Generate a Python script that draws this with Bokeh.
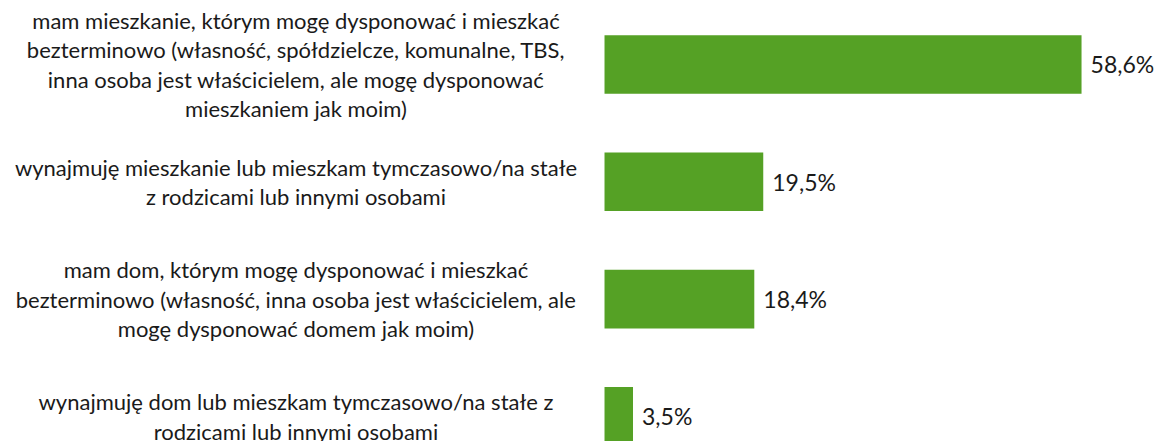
from bokeh.plotting import figure
from bokeh.models import Range1d, ColumnDataSource
from bokeh.core.properties import value
from bokeh.embed import file_html
from bokeh.resources import INLINE

categories = [
    "mam mieszkanie, którym mogę dysponować i mieszkać\nbezterminowo (własność, spółdzielcze, komunalne, TBS,\ninna osoba jest właścicielem, ale mogę dysponować\nmieszkaniem jak moim)",
    "wynajmuję mieszkanie lub mieszkam tymczasowo/na stałe\nz rodzicami lub innymi osobami",
    "mam dom, którym mogę dysponować i mieszkać\nbezterminowo (własność, inna osoba jest właścicielem, ale\nmogę dysponować domem jak moim)",
    "wynajmuję dom lub mieszkam tymczasowo/na stałe z\nrodzicami lub innymi osobami",
]
values = [58.6, 19.5, 18.4, 3.5]
value_labels = [f"{v:.1f}".replace(".", ",") + "%" for v in values]

pos = list(range(len(categories)))
src = ColumnDataSource(dict(y=pos, v=values, cat=categories, lab=value_labels,
                            zero=[0] * len(values)))

FONT = "Lato"
p = figure(width=1160, height=441, output_backend="svg", toolbar_location=None,
           x_range=Range1d(-74.2, 68.3), y_range=Range1d(3.214, -0.5456),
           min_border=0, outline_line_color=None, background_fill_color="white")
p.axis.visible = False
p.grid.visible = False

p.hbar(y="y", left="zero", right="v", height=0.5, source=src,
       fill_color="#55A125", line_color=None)

p.text(x="v", y="y", text="lab", source=src, x_offset=9,
       text_align="left", text_baseline="middle",
       text_font=value(FONT), text_font_size="23px", text_color="#1a1a1a")

p.text(x=-37.9, y="y", text="cat", source=src,
       text_align="center", text_baseline="middle",
       text_font=value(FONT), text_font_size="22px", text_color="#1a1a1a",
       text_line_height=1.09)

open("out.html", "w").write(file_html(p, INLINE))
